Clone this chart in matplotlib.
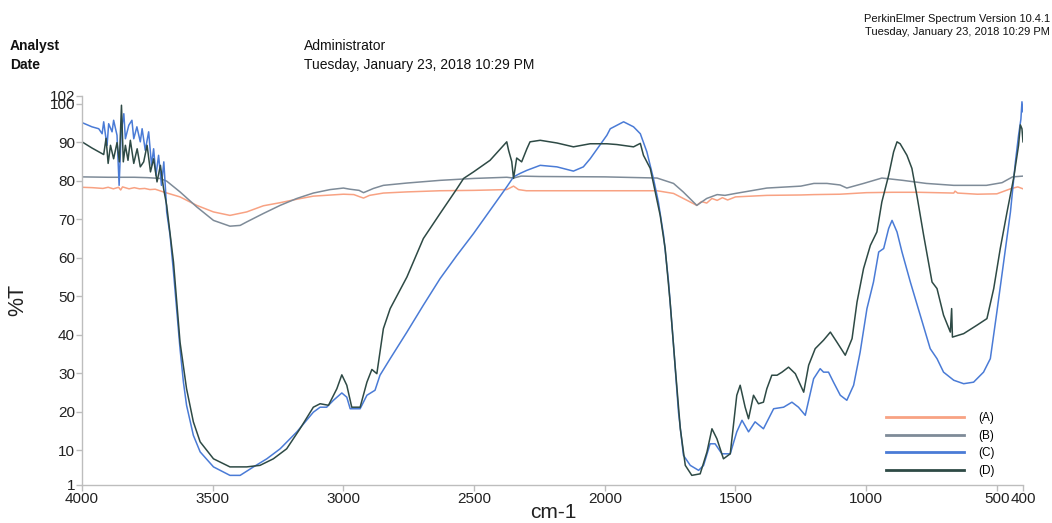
import numpy as np
import matplotlib
matplotlib.use("Agg")
import matplotlib.pyplot as plt

plt.rcParams['font.family'] = ['Liberation Sans', 'DejaVu Sans']

# wavenumber (cm-1) / %T pairs
wn_a = [4000, 3960, 3920, 3900, 3880, 3860, 3852, 3845, 3820, 3800, 3780, 3760, 3740, 3720, 3689,
        3625, 3561, 3497, 3434, 3370, 3306, 3242, 3178, 3115, 3000, 2960, 2936, 2923, 2900, 2847,
        2757, 2630, 2500, 2375, 2349, 2330, 2300, 2100, 1950, 1800, 1737, 1685, 1648, 1630, 1610,
        1590, 1570, 1550, 1530, 1500, 1380, 1250, 1200, 1100, 1000, 900, 800, 665, 660, 650, 575,
        500, 448, 420, 400]
t_a = [78.3, 78.2, 78.0, 78.3, 77.9, 78.3, 77.6, 78.4, 77.9, 78.2, 77.9, 78.0, 77.7, 77.8, 77.1,
       75.8, 73.6, 71.9, 71.0, 71.9, 73.5, 74.3, 75.2, 76.0, 76.5, 76.4, 75.8, 75.5, 76.2, 76.8,
       77.1, 77.4, 77.5, 77.7, 78.6, 77.7, 77.4, 77.4, 77.4, 77.4, 76.7, 74.9, 73.6, 74.6, 74.2,
       75.4, 74.9, 75.6, 75.0, 75.8, 76.2, 76.3, 76.4, 76.5, 76.9, 77.0, 77.0, 76.8, 77.3, 76.8,
       76.5, 76.6, 77.9, 78.4, 77.9]

wn_b = [4000, 3900, 3800, 3750, 3702, 3676, 3625, 3561, 3497, 3434, 3395, 3370, 3306, 3242, 3178,
        3115, 3051, 3000, 2975, 2940, 2923, 2885, 2847, 2757, 2630, 2500, 2375, 2349, 2320, 2250,
        2000, 1800, 1737, 1700, 1648, 1610, 1590, 1570, 1540, 1500, 1440, 1380, 1250, 1200, 1150,
        1100, 1074, 1010, 940, 860, 770, 665, 540, 480, 440, 400]
t_b = [81.0, 80.9, 80.9, 80.8, 80.6, 79.9, 77.1, 73.2, 69.7, 68.2, 68.4, 69.3, 71.5, 73.6, 75.4,
       76.8, 77.7, 78.1, 77.8, 77.5, 76.9, 78.0, 78.8, 79.4, 80.1, 80.6, 80.9, 80.7, 81.2, 81.1,
       81.0, 80.7, 79.3, 77.1, 73.6, 75.4, 75.9, 76.4, 76.2, 76.7, 77.4, 78.1, 78.6, 79.3, 79.3,
       78.9, 78.1, 79.3, 80.7, 80.1, 79.3, 78.8, 78.8, 79.5, 81.0, 81.2]

wn_c = [4000, 3962, 3936, 3923, 3917, 3910, 3904, 3898, 3885, 3879, 3866, 3858, 3850, 3840, 3834,
        3821, 3809, 3802, 3790, 3777, 3770, 3758, 3745, 3734, 3726, 3717, 3707, 3696, 3687, 3680,
        3676, 3663, 3650, 3637, 3625, 3612, 3600, 3574, 3548, 3497, 3434, 3395, 3344, 3293, 3242,
        3178, 3115, 3089, 3064, 3038, 3006, 2987, 2974, 2936, 2910, 2879, 2860, 2821, 2757, 2694,
        2630, 2566, 2502, 2439, 2375, 2349, 2324, 2298, 2247, 2183, 2120, 2082, 2056, 1992, 1979,
        1928, 1890, 1864, 1839, 1814, 1795, 1775, 1756, 1737, 1718, 1699, 1673, 1641, 1622, 1597,
        1578, 1552, 1520, 1495, 1475, 1450, 1425, 1393, 1354, 1316, 1284, 1259, 1233, 1201, 1176,
        1163, 1144, 1125, 1099, 1074, 1048, 1023, 997, 972, 952, 933, 914, 901, 882, 863, 831,
        793, 755, 729, 704, 665, 627, 589, 551, 525, 500, 474, 448, 429, 417, 408, 404, 400]
t_c = [95.1, 94.0, 93.5, 92.2, 95.3, 91.8, 89.2, 94.8, 92.7, 95.7, 91.8, 78.8, 92.7, 97.4, 90.9,
       94.4, 95.7, 90.9, 94.0, 90.1, 93.5, 87.9, 92.7, 84.0, 88.3, 81.4, 86.6, 78.8, 84.9, 77.1,
       71.9, 65.8, 56.3, 45.9, 36.4, 27.7, 21.7, 13.9, 9.6, 5.7, 3.5, 3.5, 5.7, 7.8, 10.4,
       14.8, 19.9, 21.2, 21.2, 23.0, 24.9, 23.8, 20.8, 20.8, 24.3, 25.6, 29.5, 33.8, 40.7, 47.7,
       54.6, 60.6, 66.3, 72.3, 78.4, 81.0, 81.9, 82.7, 84.0, 83.6, 82.5, 83.6, 85.7, 91.8, 93.5,
       95.3, 94.0, 92.2, 87.5, 80.6, 74.5, 65.8, 53.7, 37.3, 19.9, 8.7, 6.1, 4.8, 6.1, 11.7,
       11.7, 9.1, 9.1, 14.8, 17.8, 14.8, 17.4, 15.6, 20.8, 21.2, 22.5, 21.2, 19.1, 28.6, 31.2,
       30.3, 30.3, 27.7, 24.3, 23.0, 26.9, 35.5, 46.8, 53.7, 61.5, 62.4, 67.6, 69.7, 66.7, 61.5, 53.7,
       45.1, 36.4, 33.8, 30.3, 28.2, 27.3, 27.7, 30.3, 33.8, 45.9, 58.9, 71.9, 84.9, 91.8, 96.0, 100.5, 97.9]

wn_d = [4000, 3962, 3936, 3917, 3908, 3900, 3891, 3879, 3866, 3857, 3849, 3842, 3834, 3824, 3815,
        3802, 3789, 3777, 3764, 3751, 3738, 3726, 3713, 3700, 3688, 3676, 3650, 3625, 3600, 3574,
        3548, 3497, 3434, 3370, 3319, 3268, 3217, 3166, 3115, 3089, 3057, 3025, 3006, 2987, 2968,
        2936, 2910, 2891, 2872, 2847, 2821, 2757, 2694, 2630, 2566, 2540, 2502, 2439, 2375, 2368,
        2356, 2349, 2337, 2318, 2298, 2286, 2247, 2183, 2120, 2056, 1992, 1954, 1890, 1864, 1852,
        1826, 1807, 1788, 1769, 1750, 1730, 1711, 1692, 1667, 1635, 1609, 1590, 1571, 1546, 1520,
        1495, 1482, 1463, 1450, 1431, 1412, 1393, 1380, 1361, 1341, 1322, 1297, 1271, 1239, 1220,
        1195, 1163, 1137, 1112, 1080, 1054, 1035, 1010, 984, 959, 940, 914, 895, 882, 870, 844,
        825, 806, 780, 748, 729, 704, 678, 673, 670, 627, 576, 538, 512, 487, 461, 436, 417, 410,
        404, 400]
t_d = [90.1, 88.5, 87.5, 86.8, 91.0, 84.5, 89.2, 85.7, 89.9, 84.9, 99.6, 84.9, 89.2, 85.3, 90.5,
       84.5, 88.3, 83.6, 84.9, 89.2, 82.3, 85.7, 79.7, 84.0, 78.0, 73.6, 58.9, 38.1, 26.0, 17.4,
       12.2, 7.8, 5.7, 5.7, 6.1, 7.8, 10.4, 15.6, 21.2, 22.1, 21.7, 26.0, 29.6, 26.9, 21.2,
       21.2, 27.7, 31.0, 29.9, 41.6, 46.8, 55.0, 65.0, 71.5, 77.9, 80.6, 82.3, 85.3, 90.1, 87.9,
       85.0, 80.6, 85.9, 84.9, 88.3, 90.1, 90.5, 89.8, 88.8, 89.6, 89.6, 89.4, 88.8, 89.7, 86.6,
       83.2, 77.1, 71.0, 62.4, 48.5, 31.2, 15.6, 6.1, 3.5, 3.9, 9.6, 15.6, 13.0, 7.8, 9.1,
       24.3, 26.9, 21.2, 18.2, 24.3, 22.1, 22.5, 26.0, 29.5, 29.5, 30.3, 31.6, 29.9, 25.1, 32.1,
       36.4, 38.6, 40.7, 38.1, 34.7, 39.0, 48.5, 57.2, 63.2, 66.7, 74.5, 81.4, 87.5, 90.1, 89.6, 86.6,
       83.2, 76.2, 65.8, 53.7, 52.0, 45.1, 40.7, 46.8, 39.4, 40.3, 42.5, 44.2, 52.0, 62.4, 71.9, 80.6, 89.2, 94.5,
       93.5, 90.1]

series = [(wn_a, t_a, '(A)', '#F8A283'),
          (wn_b, t_b, '(B)', '#7E8B98'),
          (wn_c, t_c, '(C)', '#4A7BD6'),
          (wn_d, t_d, '(D)', '#2E4A45')]

x_ticks = [4000, 3500, 3000, 2500, 2000, 1500, 1000, 500, 400]
y_ticks = [1, 10, 20, 30, 40, 50, 60, 70, 80, 90, 100, 102]

fig = plt.figure(figsize=(10.52, 5.23), dpi=100)
ax = fig.add_axes([82 / 1052, 38 / 523, 941 / 1052, 389 / 523])

handles = []
for wn, t, lab, col in series:
    h, = ax.plot(wn, t, color=col, lw=1.1, label=lab)
    handles.append(h)

ax.set_xlim(4000, 400)
ax.set_ylim(1, 102)
ax.set_xticks(x_ticks)
ax.set_yticks(y_ticks)
ax.set_xticklabels([str(v) for v in x_ticks])
ax.set_yticklabels([str(v) for v in y_ticks])

for s in ['top', 'right']:
    ax.spines[s].set_visible(False)
for s in ['left', 'bottom']:
    ax.spines[s].set_color('#BDBDBD')
    ax.spines[s].set_linewidth(1.0)
ax.tick_params(colors='#BDBDBD', labelcolor='#222222', length=4, width=1.0,
               labelsize=11, pad=1)

fig.text(18 / 1052, 1 - 300 / 523, '%T', rotation=90, fontsize=15.5, color='#222222',
         ha='center', va='center')
fig.text(553 / 1052, 1 - 513 / 523, 'cm-1', fontsize=15, color='#222222',
         ha='center', va='center')

fig.text(10 / 1052, 1 - 46 / 523, 'Analyst', fontsize=10, color='#111111',
         fontweight='bold', va='center')
fig.text(10 / 1052, 1 - 65 / 523, 'Date', fontsize=10, color='#111111',
         fontweight='bold', va='center')
fig.text(304 / 1052, 1 - 46 / 523, 'Administrator', fontsize=10, color='#111111', va='center')
fig.text(304 / 1052, 1 - 65 / 523, 'Tuesday, January 23, 2018 10:29 PM', fontsize=10,
         color='#111111', va='center')
fig.text(1050 / 1052, 1 - 19 / 523, 'PerkinElmer Spectrum Version 10.4.1', fontsize=8,
         color='#111111', ha='right', va='center')
fig.text(1050 / 1052, 1 - 32 / 523, 'Tuesday, January 23, 2018 10:29 PM', fontsize=8,
         color='#111111', ha='right', va='center')

leg = ax.legend(handles=handles, loc='upper left', bbox_to_anchor=(804 / 941, 1 - 316 / 389),
                frameon=False, fontsize=8.5, handlelength=6.6, handletextpad=1.2,
                labelspacing=0.48, borderaxespad=0, borderpad=0)
for ln in leg.get_lines():
    ln.set_linewidth(2.0)

fig.savefig('out.png', dpi=100)
